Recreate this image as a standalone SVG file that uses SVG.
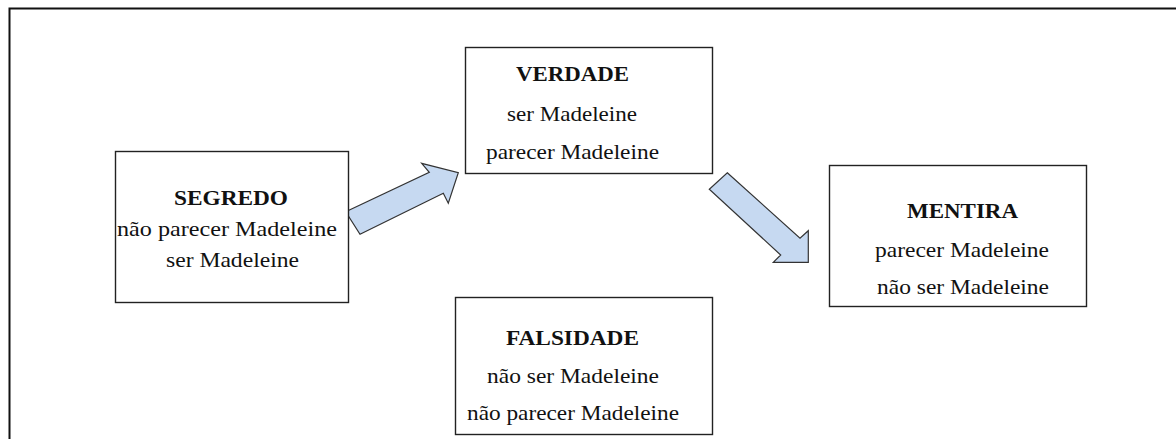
<svg xmlns="http://www.w3.org/2000/svg" width="1176" height="439" viewBox="0 0 1176 439">
<style>
.box{fill:#fff;stroke:#222;stroke-width:1.4}
.t{font-family:"Liberation Serif","Times New Roman",serif;font-size:21px;fill:#111}
.b{font-weight:bold}
.arrow{fill:#c6d9f1;stroke:#333;stroke-width:1.2;stroke-linejoin:miter}
</style>
<rect width="1176" height="439" fill="#fff"/>
<path d="M9.5,439 V8.5 H1176" fill="none" stroke="#111" stroke-width="2"/>
<g id="connectors">
<polygon class="arrow" points="345.7,211.7 429.3,172.3 421.7,163.3 458.3,172.7 448.3,203.3 443.3,193.3 360,234.3"/>
<polygon class="arrow" points="727.3,172.7 800,238.3 808.3,230.7 808.3,262.3 773.3,262.3 780.7,255 709.3,189.3"/>
</g>
<g id="segredo">
<rect class="box" x="115.5" y="151.5" width="233" height="151"/>
<text class="t b" x="174" y="205" textLength="114" lengthAdjust="spacingAndGlyphs">SEGREDO</text>
<text class="t" x="117" y="236" textLength="220" lengthAdjust="spacingAndGlyphs">não parecer Madeleine</text>
<text class="t" x="166" y="267" textLength="133" lengthAdjust="spacingAndGlyphs">ser Madeleine</text>
</g>
<g id="verdade">
<rect class="box" x="465.5" y="47.5" width="247" height="126"/>
<text class="t b" x="516" y="81" textLength="113" lengthAdjust="spacingAndGlyphs">VERDADE</text>
<text class="t" x="507" y="121" textLength="130" lengthAdjust="spacingAndGlyphs">ser Madeleine</text>
<text class="t" x="486" y="159" textLength="173" lengthAdjust="spacingAndGlyphs">parecer Madeleine</text>
</g>
<g id="mentira">
<rect class="box" x="829.5" y="165.5" width="257" height="141"/>
<text class="t b" x="907" y="218" textLength="111" lengthAdjust="spacingAndGlyphs">MENTIRA</text>
<text class="t" x="875" y="257" textLength="174" lengthAdjust="spacingAndGlyphs">parecer Madeleine</text>
<text class="t" x="877" y="294" textLength="172" lengthAdjust="spacingAndGlyphs">não ser Madeleine</text>
</g>
<g id="falsidade">
<rect class="box" x="455.5" y="297.5" width="257" height="137"/>
<text class="t b" x="506" y="345" textLength="133" lengthAdjust="spacingAndGlyphs">FALSIDADE</text>
<text class="t" x="487" y="383" textLength="172" lengthAdjust="spacingAndGlyphs">não ser Madeleine</text>
<text class="t" x="467" y="420" textLength="212" lengthAdjust="spacingAndGlyphs">não parecer Madeleine</text>
</g>
</svg>
